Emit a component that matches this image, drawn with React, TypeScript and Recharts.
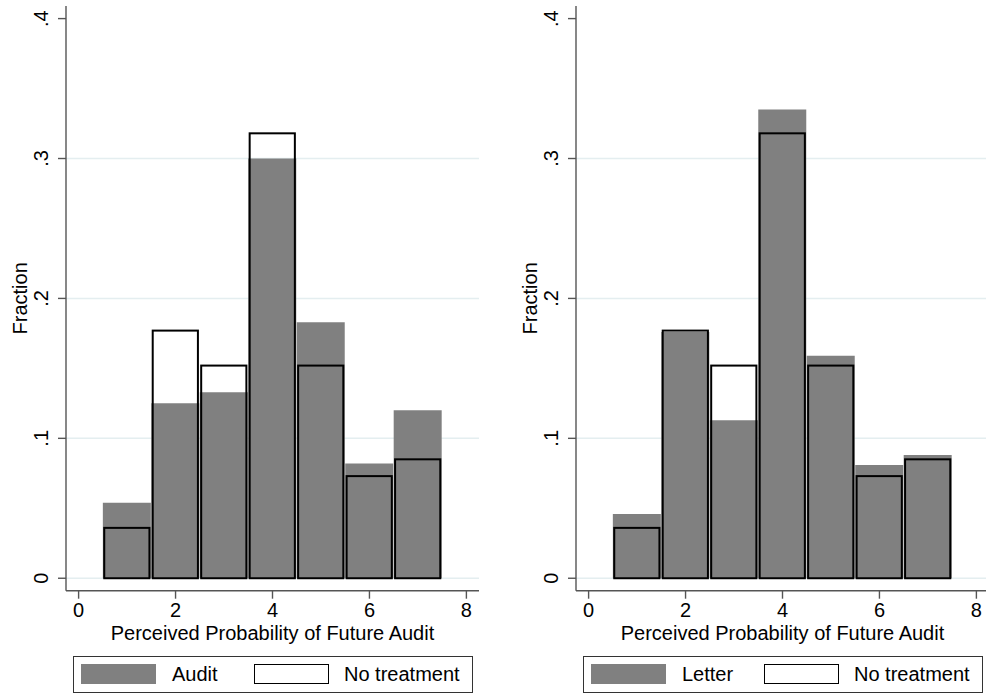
import { BarChart, Bar, XAxis, YAxis, CartesianGrid, Legend } from 'recharts';

// histogram bins (perceived probability, 1..7) and fractions
const bins = [1, 2, 3, 4, 5, 6, 7];
const auditShare = [0.054, 0.125, 0.133, 0.3, 0.183, 0.082, 0.12];
const letterShare = [0.046, 0.176, 0.113, 0.335, 0.159, 0.081, 0.088];
const noTreatmentShare = [0.036, 0.177, 0.152, 0.318, 0.152, 0.073, 0.085];

const xTicks = [0, 2, 4, 6, 8];
const yTicks = [0, 0.1, 0.2, 0.3, 0.4];
const gridValues = [0, 0.1, 0.2, 0.3];
const xTitle = 'Perceived Probability of Future Audit';
const yTitle = 'Fraction';
const controlName = 'No treatment';

const FONT = '"Liberation Sans", Arial, Helvetica, sans-serif';
const GRAY = '#808080';
const AXIS = '#555555';

const fmtY = (v: number) => (v === 0 ? '0' : String(v).replace(/^0/, ''));

const YTick = ({ x, y, payload }: any) => (
  <text
    x={x}
    y={y}
    transform={`rotate(-90, ${x}, ${y})`}
    textAnchor="middle"
    fontSize={20}
    fontFamily={FONT}
    fill="#000"
  >
    {fmtY(payload.value)}
  </text>
);

// hollow bar, pulled in a little so neighbours show a thin double edge
const HollowBar = (p: any) => {
  if (!p.height) return null;
  return (
    <rect
      x={p.x + 1.4}
      y={p.y}
      width={p.width - 2.8}
      height={p.height}
      fill="none"
      stroke="#000"
      strokeWidth={2}
    />
  );
};

function LegendBox({ name }: { name: string }) {
  return (
    <div
      style={{
        position: 'relative',
        height: 37,
        boxSizing: 'border-box',
        border: '1px solid #333',
        background: '#fff',
        fontFamily: FONT,
        fontSize: 20,
        color: '#000',
      }}
    >
      <div style={{ position: 'absolute', left: 7, top: 7, width: 75, height: 20, background: GRAY }} />
      <span style={{ position: 'absolute', left: 98, top: 6, lineHeight: '23px' }}>{name}</span>
      <div
        style={{
          position: 'absolute',
          left: 180,
          top: 7,
          width: 75,
          height: 20,
          boxSizing: 'border-box',
          border: '1.5px solid #000',
          background: '#fff',
        }}
      />
      <span style={{ position: 'absolute', left: 270, top: 6, lineHeight: '23px' }}>{controlName}</span>
    </div>
  );
}

function Panel({ values, name }: { values: number[]; name: string }) {
  const data = bins.map((bin, i) => ({ bin, treated: values[i], control: noTreatmentShare[i] }));

  return (
    <BarChart
      width={510}
      height={695}
      data={data}
      margin={{ top: 6, right: 31, bottom: 2, left: 0 }}
      barCategoryGap={0}
      barGap={0}
    >
      <CartesianGrid
        xAxisId="g"
        vertical={false}
        horizontalValues={gridValues}
        stroke="#e4eef0"
        strokeWidth={1.5}
      />
      <XAxis
        xAxisId="g"
        type="number"
        dataKey="bin"
        domain={[-0.26, 8.26]}
        allowDataOverflow
        ticks={xTicks}
        interval={0}
        height={65.3}
        tickSize={8}
        tickMargin={4}
        axisLine={{ stroke: AXIS, strokeWidth: 1.4 }}
        tickLine={{ stroke: AXIS, strokeWidth: 1.4 }}
        tick={{ fill: '#000', fontSize: 20, fontFamily: FONT }}
        label={{ value: xTitle, position: 'insideBottom', offset: 16, fill: '#000', fontSize: 20, fontFamily: FONT }}
      />
      <XAxis xAxisId="o" type="number" dataKey="bin" domain={[-0.26, 8.26]} allowDataOverflow hide />
      <YAxis
        type="number"
        domain={[-0.0089, 0.409]}
        allowDataOverflow
        ticks={yTicks}
        interval={0}
        width={66}
        tickSize={8}
        tickMargin={10}
        axisLine={{ stroke: AXIS, strokeWidth: 1.4 }}
        tickLine={{ stroke: AXIS, strokeWidth: 1.4 }}
        tick={<YTick />}
        label={{
          content: ({ viewBox }: any) => {
            const x = viewBox.x + 27;
            const y = viewBox.y + viewBox.height / 2;
            return (
              <text
                x={x}
                y={y}
                transform={`rotate(-90, ${x}, ${y})`}
                textAnchor="middle"
                fontSize={20}
                fontFamily={FONT}
                fill="#000"
              >
                {yTitle}
              </text>
            );
          },
        }}
      />
      <Bar xAxisId="g" dataKey="treated" name={name} fill={GRAY} isAnimationActive={false} />
      <Bar xAxisId="o" dataKey="control" name={controlName} shape={<HollowBar />} isAnimationActive={false} />
      <Legend
        verticalAlign="bottom"
        wrapperStyle={{ left: 73, width: 400 }}
        content={() => <LegendBox name={name} />}
      />
    </BarChart>
  );
}

export default function App() {
  return (
    <div
      style={{
        position: 'absolute',
        left: 0,
        top: 0,
        width: 986,
        height: 695,
        overflow: 'hidden',
        background: '#fff',
        fontFamily: FONT,
      }}
    >
      <div style={{ position: 'absolute', left: 0, top: 0 }}>
        <Panel values={auditShare} name="Audit" />
      </div>
      <div style={{ position: 'absolute', left: 510, top: 0 }}>
        <Panel values={letterShare} name="Letter" />
      </div>
    </div>
  );
}
